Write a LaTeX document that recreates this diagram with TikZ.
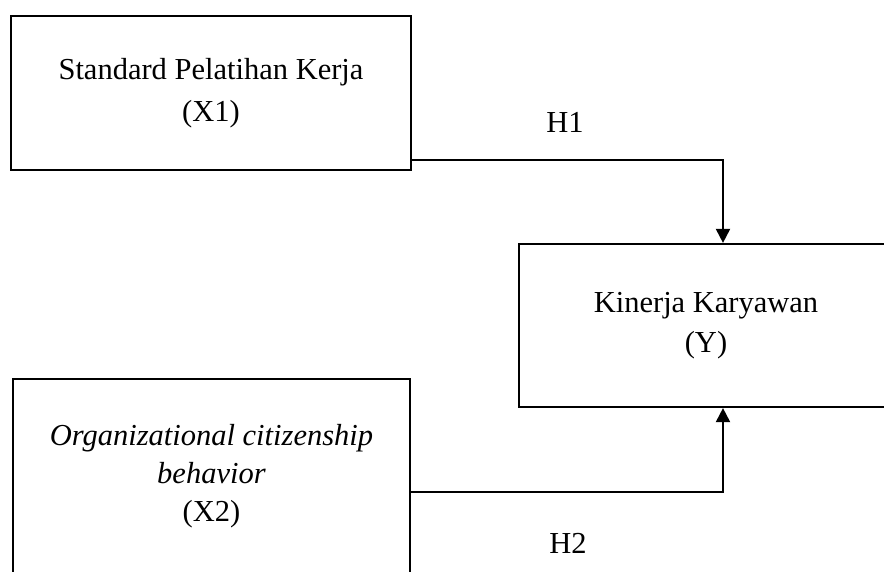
\documentclass[tikz,border=0pt]{standalone}
\usepackage{fontspec}
\setmainfont{Liberation Serif}
\usetikzlibrary{arrows.meta,calc}
\tikzset{
  box/.style={draw=black, line width=2.2pt, align=center, inner sep=0pt},
  conn/.style={draw=black, line width=2pt, -{Triangle[width=14pt,length=14pt]}},
  lbl/.style={font=\fontsize{30.5}{38}\selectfont}
}
\begin{document}
\begin{tikzpicture}[x=1pt,y=-1pt]
\useasboundingbox (0,0) rectangle (884,572);
\clip (0,0) rectangle (884,572);
\node[box, minimum width=400pt, minimum height=154pt, font=\fontsize{30.5}{42}\selectfont] (x1) at (211,93) {Standard Pelatihan Kerja\\(X1)};
\node[box, minimum width=374pt, minimum height=163pt, font=\fontsize{30.5}{40}\selectfont] (y) at (706,325.5) {Kinerja Karyawan\\(Y)};
\node[box, minimum width=397pt, minimum height=194pt, font=\fontsize{30.5}{38}\selectfont] (x2) at (211.5,476) {\textit{Organizational citizenship}\\\textit{behavior}\\(X2)};
\draw[conn] ($(x1.south east)+(0,-11)$) -| ([xshift=17pt]y.north);
\draw[conn] ($(x2.east)+(0,16)$) -| ([xshift=17pt]y.south);
\node[lbl] (h1) at (565,122) {H1};
\node[lbl] (h2) at (568,543) {H2};
\end{tikzpicture}
\end{document}
